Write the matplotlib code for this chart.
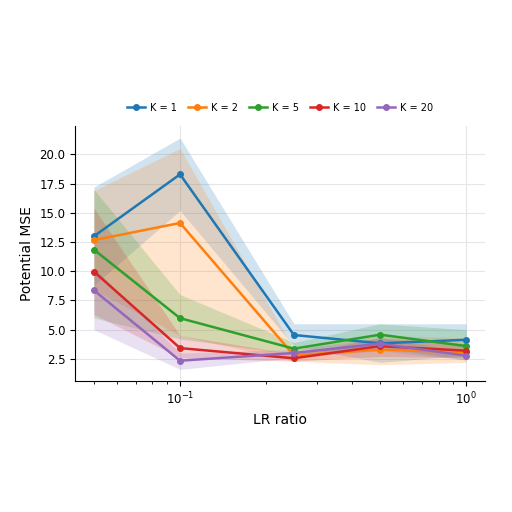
import matplotlib
matplotlib.use("Agg")
import matplotlib.pyplot as plt
import numpy as np

lr = [0.05, 0.1, 0.25, 0.5, 1.0]
labels = ["K = 1", "K = 2", "K = 5", "K = 10", "K = 20"]
means = [
    [12.99, 18.29, 4.54, 3.83, 4.13],
    [12.66, 14.13, 2.80, 3.29, 3.07],
    [11.85, 5.98, 3.37, 4.57, 3.59],
    [9.97, 3.42, 2.55, 3.59, 3.20],
    [8.37, 2.34, 3.00, 3.80, 2.77],
]
upper = [
    [17.2, 21.4, 5.5, 5.5, 5.5],
    [16.9, 20.5, 3.3, 4.5, 4.3],
    [17.0, 8.0, 3.9, 5.5, 5.0],
    [15.4, 4.5, 2.9, 4.3, 3.8],
    [10.3, 3.0, 3.3, 4.3, 3.1],
]
lower = [
    [8.8, 15.2, 3.6, 2.2, 2.8],
    [8.4, 4.5, 2.3, 2.0, 2.2],
    [6.0, 4.2, 2.9, 3.5, 2.4],
    [6.3, 2.6, 2.3, 2.7, 2.6],
    [5.0, 1.6, 2.6, 3.2, 2.4],
]
colors = ["#1f77b4", "#ff7f0e", "#2ca02c", "#d62728", "#9467bd"]

fig = plt.figure(figsize=(5.12, 5.12), dpi=100)
ax = fig.add_axes([0.147, 0.256, 0.80, 0.497])
for m, u, l, c, lab in zip(means, upper, lower, colors, labels):
    ax.fill_between(lr, l, u, color=c, alpha=0.2, linewidth=0)
    ax.plot(lr, m, color=c, marker="o", markersize=4, linewidth=1.8, label=lab)
ax.set_xscale("log")
ax.set_xlabel("LR ratio")
ax.set_ylabel("Potential MSE")
ax.set_yticks([2.5, 5.0, 7.5, 10.0, 12.5, 15.0, 17.5, 20.0])
ax.grid(True, color="#e5e5ea", linewidth=0.8)
ax.set_axisbelow(True)
ax.spines["top"].set_visible(False)
ax.spines["right"].set_visible(False)
ax.tick_params(labelsize=8.5)
ax.legend(loc="lower center", bbox_to_anchor=(0.5, 1.02), ncol=5, frameon=False,
          fontsize=7, handlelength=1.8, columnspacing=1.2, handletextpad=0.5)
fig.savefig("out.png", dpi=100)
